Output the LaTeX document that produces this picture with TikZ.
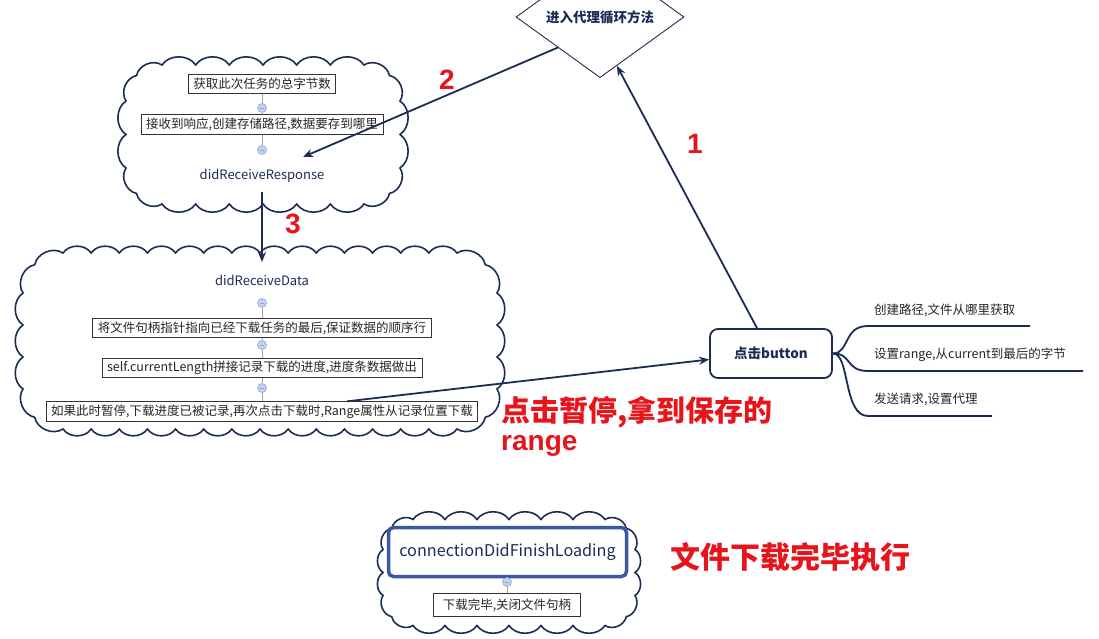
\documentclass[tikz,border=0pt]{standalone}
\usepackage{fontspec}
\setmainfont{Noto Sans CJK SC}
\newfontfamily\arialf{Liberation Sans}
\usetikzlibrary{shapes.geometric,arrows.meta,calc}
\definecolor{navy}{HTML}{1C2D55}
\definecolor{redt}{HTML}{E8141B}
\definecolor{midblue}{HTML}{3B57A5}
\definecolor{dotfill}{HTML}{C3D2EE}
\definecolor{dotdraw}{HTML}{8FA5D2}
\definecolor{boxline}{HTML}{333333}
% cx cy a b r nx ny nc
\newcommand\drawcloud[8]{%
  \draw[cloudline]
   ({#1-#3+#5},{#2-#4})
   foreach \k in {1,...,#6} { to[bump] ({#1-#3+#5+\k*(2*#3-2*#5)/#6},{#2-#4}) }
   foreach \k in {1,...,#8} { to[bump] ({#1+#3-#5+#5*cos(90-90*\k/#8)},{#2-#4+#5-#5*sin(90-90*\k/#8)}) }
   foreach \k in {1,...,#7} { to[bump] ({#1+#3},{#2-#4+#5+\k*(2*#4-2*#5)/#7}) }
   foreach \k in {1,...,#8} { to[bump] ({#1+#3-#5+#5*cos(-90*\k/#8)},{#2+#4-#5-#5*sin(-90*\k/#8)}) }
   foreach \k in {1,...,#6} { to[bump] ({#1+#3-#5-\k*(2*#3-2*#5)/#6},{#2+#4}) }
   foreach \k in {1,...,#8} { to[bump] ({#1-#3+#5+#5*cos(-90-90*\k/#8)},{#2+#4-#5-#5*sin(-90-90*\k/#8)}) }
   foreach \k in {1,...,#7} { to[bump] ({#1-#3},{#2+#4-#5-\k*(2*#4-2*#5)/#7}) }
   foreach \k in {1,...,#8} { to[bump] ({#1-#3+#5+#5*cos(180-90*\k/#8)},{#2-#4+#5-#5*sin(180-90*\k/#8)}) }
   -- cycle;}
\tikzset{
  cloudline/.style={draw=navy, line width=1.6pt, fill=white, line join=miter},
  bump/.style={bend left=56},
  box/.style={draw=boxline, line width=0.8pt, fill=white, inner xsep=5pt, inner ysep=0pt,
    minimum height=19.5pt, text=black!85, font=\fontsize{12.5}{14}\selectfont},
  dtext/.style={text=navy, font=\fontsize{13}{15}\selectfont},
  dotc/.style={circle, draw=dotdraw, fill=dotfill, line width=0.6pt, minimum size=9pt, inner sep=0pt,
    path picture={\draw[dotdraw, line width=0.7pt]
      ([xshift=-2.3pt]path picture bounding box.center) -- ([xshift=2.3pt]path picture bounding box.center);}},
  conn/.style={draw=gray!70, line width=0.7pt},
  arr/.style={draw=navy, line width=1.8pt, -{Stealth[length=10pt,width=8pt]}},
  branch/.style={draw=navy, line width=1.8pt},
  redbig/.style={text=redt, font=\fontsize{29}{33}\selectfont\bfseries, inner sep=0pt},
  rednum/.style={text=redt, font=\arialf\fontsize{28}{30}\selectfont\bfseries, inner sep=0pt},
  brtext/.style={text=black!85, font=\fontsize{12.5}{14}\selectfont, inner sep=0pt, anchor=west},
}
\begin{document}
\begin{tikzpicture}[x=1pt, y=-1pt]
\useasboundingbox (0,0) rectangle (1099,639);
\clip (0,0) rectangle (1099,639);
\fill[white] (0,0) rectangle (1099,639);

% clouds
\drawcloud{263}{134.5}{137}{69.5}{36}{6}{2}{2}
\drawcloud{260}{341}{237}{88}{40}{14}{3}{2}
\drawcloud{509}{572.5}{126}{53}{30}{6}{2}{2}

% diamond
\node[diamond, draw=navy, line width=0.9pt, fill=white, minimum width=168pt, minimum height=76pt, inner sep=0pt,
  text=navy, font=\fontsize{13.5}{15}\selectfont\bfseries] (dia) at (600,17) {进入代理循环方法};

% cloud 1 content
\node[box] (r1) at (262,84) {获取此次任务的总字节数};
\node[dotc] (d1) at (262,108) {};
\node[box] (r2) at (262,124.5) {接收到响应,创建存储路径,数据要存到哪里};
\node[dotc] (d2) at (262,150) {};
\node[dtext] (resp) at (262,176) {didReceiveResponse};
\draw[conn] (r1) -- (d1); \draw[conn] (d1) -- (r2); \draw[conn] (r2) -- (d2);

% cloud 2 content
\node[dtext] (data) at (262,280) {didReceiveData};
\node[dotc] (d3) at (262,303) {};
\node[box] (b1) at (262,328) {将文件句柄指针指向已经下载任务的最后,保证数据的顺序行};
\node[dotc] (d4) at (262,345) {};
\node[box] (b2) at (262,368) {self.currentLength拼接记录下载的进度,进度条数据做出};
\node[dotc] (d5) at (262,388) {};
\node[box] (b3) at (262,411.5) {如果此时暂停,下载进度已被记录,再次点击下载时,Range属性从记录位置下载};
\draw[conn] (d3) -- (b1); \draw[conn] (b1) -- (d4); \draw[conn] (d4) -- (b2);
\draw[conn] (b2) -- (d5); \draw[conn] (d5) -- (b3);

% cloud 3 content
\node[draw=midblue, line width=3.5pt, rounded corners=5pt, fill=white, minimum width=238pt, minimum height=49pt,
  text=navy, font=\fontsize{16.2}{19}\selectfont] (fin) at (507.5,552) {connectionDidFinishLoading};
\node[dotc] (d6) at (507,582) {};
\node[box, minimum height=23pt, inner xsep=9pt] (f1) at (507,605) {下载完毕,关闭文件句柄};
\draw[conn] (d6) -- (f1);

% button
\node[draw=navy, line width=1.8pt, rounded corners=8pt, fill=white, minimum width=122pt, minimum height=49pt,
  text=navy, font=\fontsize{13.5}{15}\selectfont\bfseries] (btn) at (771,353.5) {点击button};

% branches
\coordinate (e1) at (1030,326);
\coordinate (e2) at (1083,371);
\coordinate (e3) at (992,416);
\draw[branch] (btn.east) .. controls (850,353) and (843,326) .. (868,326) -- (e1);
\draw[branch] (btn.east) .. controls (852,353) and (845,371) .. (868,371) -- (e2);
\draw[branch] (btn.east) .. controls (850,353) and (843,416) .. (868,416) -- (e3);
\node[brtext] (t1) at (874,310) {创建路径,文件从哪里获取};
\node[brtext] (t2) at (874,355) {设置range,从current到最后的字节};
\node[brtext] (t3) at (874,399) {发送请求,设置代理};

% arrows
\coordinate (a2end) at (303,157);
\coordinate (a3s) at (262,192);
\coordinate (a3e) at (262,262);
\draw[arr] ([xshift=-14pt]btn.north) -- ($(dia.south)!0.2!(dia.east)$);
\draw[arr] (dia.south west) -- (a2end);
\draw[arr] (a3s) -- (a3e);
\draw[arr] ([xshift=85pt]b3.north) -- ([yshift=-6pt]btn.west);

% numbers
\node[rednum] (n1) at (695,144) {1};
\node[rednum] (n2) at (447,80) {2};
\node[rednum] (n3) at (293,224) {3};

% red texts
\node[redbig, anchor=west] (p1) at (501,412) {点击暂停,拿到保存的};
\node[redbig, anchor=west, font=\arialf\fontsize{28}{32}\selectfont\bfseries] (p2) at (501,446) {range};
\node[redbig, anchor=west, font=\fontsize{30}{34}\selectfont\bfseries] (p3) at (670,557) {文件下载完毕执行};
\end{tikzpicture}
\end{document}
